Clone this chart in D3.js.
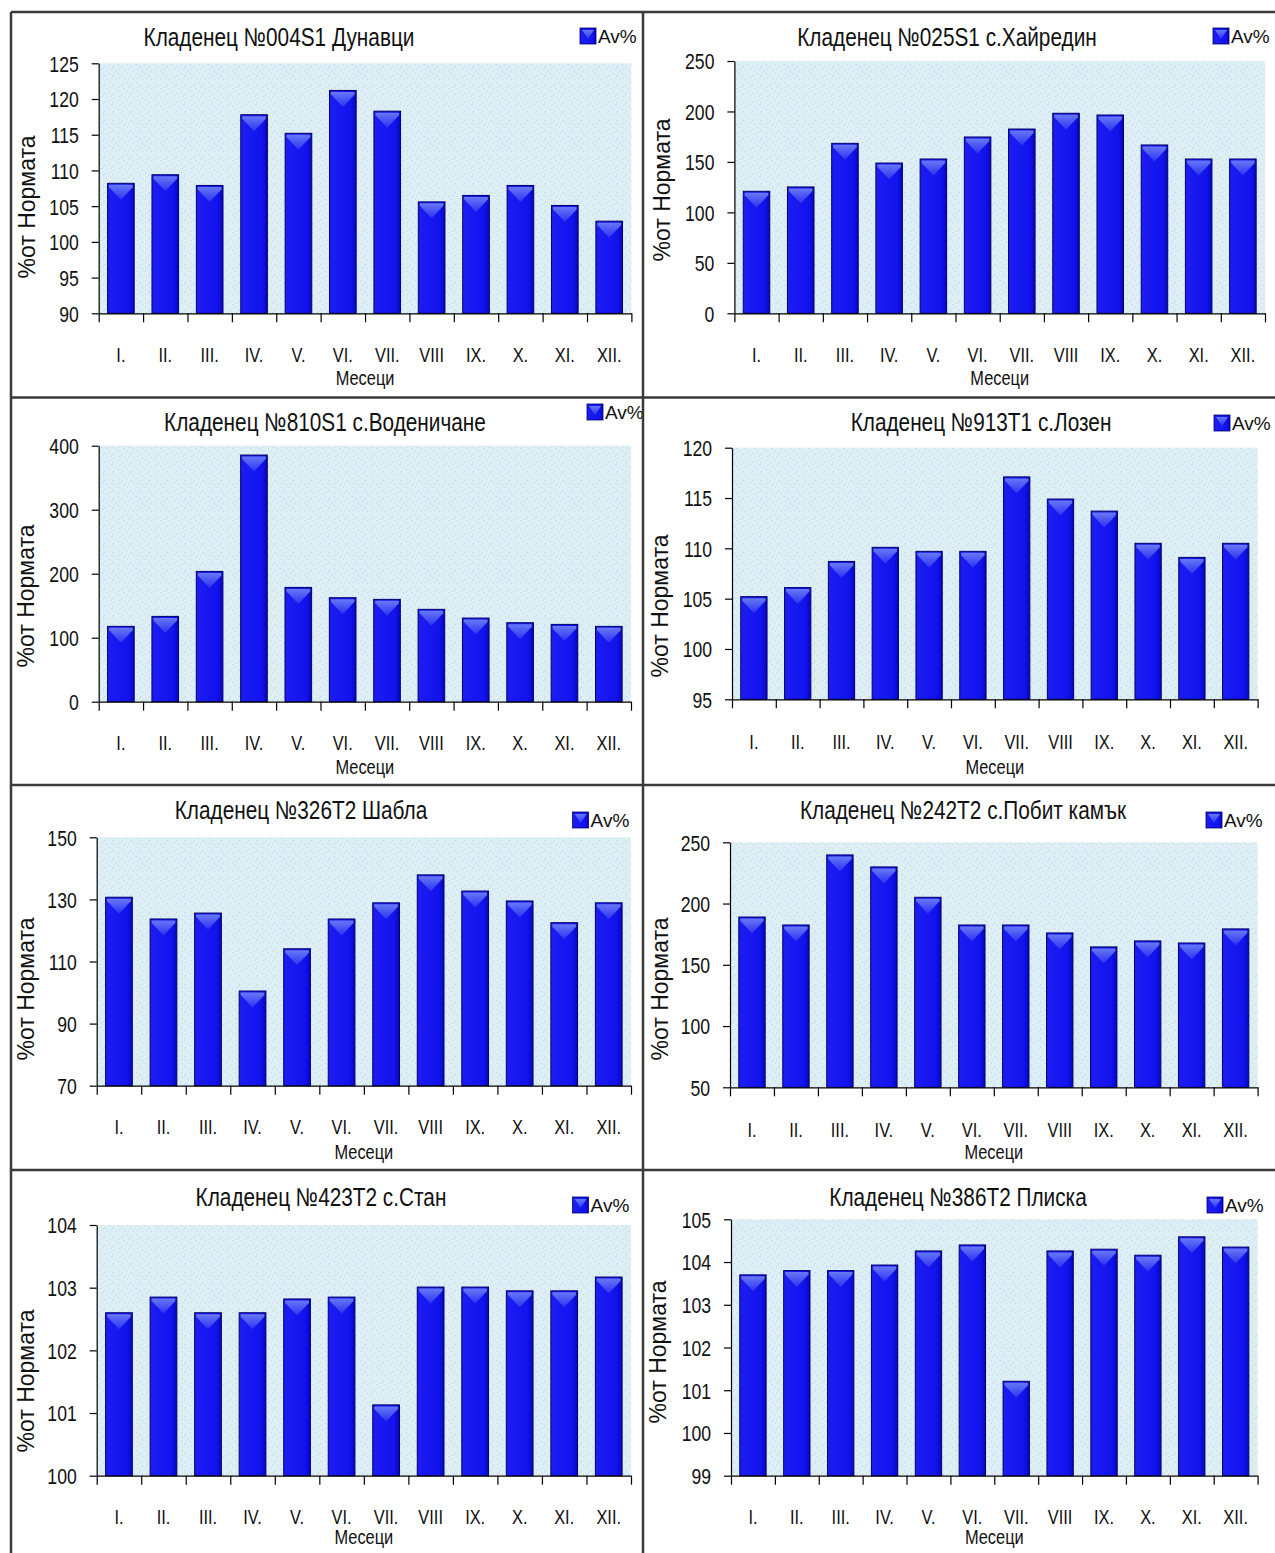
<!DOCTYPE html>
<html>
<head>
<meta charset="utf-8">
<script src="https://cdn.jsdelivr.net/npm/d3@7"></script>
<style>
  html, body { margin: 0; padding: 0; background: #ffffff; }
  svg { display: block; }
  text { font-family: "Liberation Sans", Arial, sans-serif; fill: #111; }
</style>
</head>
<body>
<script>
// Monthly groundwater levels as % of norm for eight wells
const months = ["I.", "II.", "III.", "IV.", "V.", "VI.", "VII.", "VIII", "IX.", "X.", "XI.", "XII."];

const titles = [
  "Кладенец №004S1 Дунавци",
  "Кладенец №025S1 с.Хайредин",
  "Кладенец №810S1 с.Воденичане",
  "Кладенец №913T1 с.Лозен",
  "Кладенец №326T2 Шабла",
  "Кладенец №242T2 с.Побит камък",
  "Кладенец №423T2 с.Стан",
  "Кладенец №386T2 Плиска"
];

const well004S1 = [108.2, 109.4, 107.9, 117.8, 115.2, 121.2, 118.3, 105.6, 106.5, 107.9, 105.1, 102.9];
const well025S1 = [120.9, 125.2, 168.4, 148.9, 152.9, 174.7, 182.6, 198.2, 196.5, 166.8, 152.9, 152.9];
const well810S1 = [117.7, 133.3, 203.6, 385.4, 178.6, 162.5, 159.9, 144.3, 130.7, 123.4, 120.8, 117.7];
const well913T1 = [105.2, 106.1, 108.7, 110.1, 109.7, 109.7, 117.1, 114.9, 113.7, 110.5, 109.1, 110.5];
const well326T2 = [130.7, 123.7, 125.6, 100.5, 114.1, 123.7, 128.9, 137.9, 132.7, 129.5, 122.5, 128.9];
const well242T2 = [189.0, 182.5, 239.7, 229.9, 205.1, 182.5, 182.5, 176.0, 164.6, 169.5, 167.8, 179.3];
const well423T2 = [102.6, 102.85, 102.6, 102.6, 102.82, 102.85, 101.13, 103.01, 103.01, 102.95, 102.95, 103.17];
const well386T2 = [103.7, 103.8, 103.8, 103.93, 104.26, 104.4, 101.21, 104.26, 104.3, 104.16, 104.59, 104.35];

const ticks004S1 = [90, 95, 100, 105, 110, 115, 120, 125];
const ticks025S1 = [0, 50, 100, 150, 200, 250];
const ticks810S1 = [0, 100, 200, 300, 400];
const ticks913T1 = [95, 100, 105, 110, 115, 120];
const ticks326T2 = [70, 90, 110, 130, 150];
const ticks242T2 = [50, 100, 150, 200, 250];
const ticks423T2 = [100, 101, 102, 103, 104];
const ticks386T2 = [99, 100, 101, 102, 103, 104, 105];

const seriesName = "Av%";
const xTitle = "Месеци";
const yTitle = "%от Нормата";

const values = [well004S1, well025S1, well810S1, well913T1, well326T2, well242T2, well423T2, well386T2];
const tickSets = [ticks004S1, ticks025S1, ticks810S1, ticks913T1, ticks326T2, ticks242T2, ticks423T2, ticks386T2];

// Panel geometry (page coordinates)
const frames = [
  {l: 98.7, r: 631.4, t: 63.3,  b: 313.3,  tx: 279, ty: 37,    lx: 580,  ly: 28,   yx: 27,   yy: 207,  my: 355,  ay: 378},
  {l: 734.4, r: 1265, t: 61,    b: 313.3,  tx: 947, ty: 37,    lx: 1213, ly: 28,   yx: 662,  yy: 190,  my: 355,  ay: 378},
  {l: 98.7, r: 631,   t: 445.7, b: 701.7,  tx: 325, ty: 421.7, lx: 587,  ly: 404,  yx: 25.5, yy: 596,  my: 743,  ay: 767},
  {l: 732,  r: 1257.6, t: 447.7, b: 699.3, tx: 981, ty: 421.7, lx: 1214, ly: 415,  yx: 660,  yy: 606,  my: 742,  ay: 767},
  {l: 96.7, r: 631,   t: 837.3, b: 1085.7, tx: 301, ty: 810,   lx: 572.6, ly: 812, yx: 25.5, yy: 989,  my: 1127, ay: 1152},
  {l: 730,  r: 1257.6, t: 842.3, b: 1087.3, tx: 963, ty: 810,  lx: 1206, ly: 812,  yx: 659.5, yy: 989, my: 1130, ay: 1152},
  {l: 96.7, r: 631,   t: 1225,  b: 1475.7, tx: 321, ty: 1197,  lx: 572.6, ly: 1197, yx: 25.5, yy: 1381, my: 1517, ay: 1537},
  {l: 731,  r: 1257.6, t: 1219.3, b: 1475.7, tx: 958, ty: 1197, lx: 1207, ly: 1197, yx: 658, yy: 1352, my: 1517, ay: 1537}
];

const W = 1275, H = 1553;
const svg = d3.select("body").append("svg").attr("width", W).attr("height", H);
svg.append("rect").attr("width", W).attr("height", H).attr("fill", "#ffffff");

const defs = svg.append("defs");

// Speckled light-blue plot background
const pat = defs.append("pattern").attr("id", "speckle").attr("patternUnits", "userSpaceOnUse")
  .attr("width", 9).attr("height", 9);
pat.append("rect").attr("width", 9).attr("height", 9).attr("fill", "#dceff4");
[[1, 1], [5, 3], [2, 6], [7, 7], [4, 4.5]].forEach(([px, py], i) => {
  pat.append("rect").attr("x", px).attr("y", py).attr("width", 1).attr("height", 1)
    .attr("fill", i % 2 ? "#cfc8ea" : "#d3cbe9");
});

// Bar body shading: bright blue, darker toward the right edge
const body = defs.append("linearGradient").attr("id", "barBody").attr("x1", 0).attr("x2", 1).attr("y1", 0).attr("y2", 0);
body.append("stop").attr("offset", "0%").attr("stop-color", "#1c1cf2");
body.append("stop").attr("offset", "80%").attr("stop-color", "#1212ee");
body.append("stop").attr("offset", "100%").attr("stop-color", "#0707b8");

// Lighter downward chevron at the top of each bar
const cap = defs.append("linearGradient").attr("id", "barCap").attr("x1", 0).attr("x2", 0).attr("y1", 0).attr("y2", 1);
cap.append("stop").attr("offset", "0%").attr("stop-color", "#6878f7");
cap.append("stop").attr("offset", "100%").attr("stop-color", "#2a32f0");

frames.forEach((f, i) => {
  const data = values[i];
  const ticks = tickSets[i];
  const g = svg.append("g");

  const x = d3.scaleBand().domain(months).range([f.l, f.r]).paddingInner(0.4).paddingOuter(0.2);
  const xEdge = d3.scaleLinear().domain([0, months.length]).range([f.l, f.r]);
  const y = d3.scaleLinear().domain([ticks[0], ticks[ticks.length - 1]]).range([f.b, f.t]);

  // plot background
  g.append("rect").attr("x", f.l).attr("y", f.t).attr("width", f.r - f.l).attr("height", f.b - f.t)
    .attr("fill", "url(#speckle)");

  // bars
  const bars = g.append("g").selectAll("g").data(data).join("g");
  bars.append("rect")
    .attr("x", (d, j) => x(months[j]))
    .attr("y", d => y(d))
    .attr("width", x.bandwidth())
    .attr("height", d => y(ticks[0]) - y(d))
    .attr("fill", "url(#barBody)")
    .attr("stroke", "#00006e").attr("stroke-width", 1);
  bars.append("path")
    .attr("d", (d, j) => {
      const x0 = x(months[j]) + 1.5, w = x.bandwidth() - 3, y0 = y(d) + 1.5;
      return `M${x0},${y0}H${x0 + w}V${y0 + 2.5}L${x0 + w / 2},${y0 + 15}L${x0},${y0 + 2.5}Z`;
    })
    .attr("fill", "url(#barCap)");

  // y axis
  const ya = g.append("g").attr("transform", `translate(${f.l},0)`)
    .call(d3.axisLeft(y).tickValues(ticks).tickSize(7).tickSizeOuter(0).tickFormat(d3.format("d")));
  ya.select(".domain").attr("stroke", "#000").attr("stroke-width", 1.2);
  ya.selectAll(".tick line").attr("stroke", "#000").attr("stroke-width", 1.2);
  ya.selectAll(".tick text")
    .attr("font-size", 22).attr("font-family", "Liberation Sans, Arial, sans-serif").attr("fill", "#111")
    .attr("x", -20 / 0.8).attr("dy", "0.36em")
    .attr("transform", "scale(0.8,1)");

  // x axis with ticks at category boundaries
  const xa = g.append("g").attr("transform", `translate(0,${f.b})`)
    .call(d3.axisBottom(xEdge).tickValues(d3.range(months.length + 1)).tickSize(9).tickSizeOuter(0).tickFormat(""));
  xa.select(".domain").attr("stroke", "#000").attr("stroke-width", 1.2);
  xa.selectAll(".tick line").attr("stroke", "#000").attr("stroke-width", 1.2);

  // month labels
  const ml = g.append("g").attr("transform", `translate(0,${f.my})`)
    .call(d3.axisBottom(x).tickSize(0).tickPadding(0));
  ml.select(".domain").remove();
  ml.selectAll(".tick text")
    .attr("font-size", 20).attr("font-family", "Liberation Sans, Arial, sans-serif").attr("fill", "#111")
    .attr("y", 0).attr("dy", "0.36em")
    .attr("transform", "scale(0.82,1)");

  // axis titles
  g.append("text").attr("transform", `translate(${(f.l + f.r) / 2},${f.ay}) scale(0.82,1)`)
    .attr("text-anchor", "middle").attr("dy", "0.36em").attr("font-size", 20).text(xTitle);
  g.append("text").attr("transform", `translate(${f.yx},${f.yy}) rotate(-90)`)
    .attr("text-anchor", "middle").attr("dy", "0.36em").attr("font-size", 23).text(yTitle);

  // chart title
  g.append("text").attr("transform", `translate(${f.tx},${f.ty}) scale(0.8,1)`)
    .attr("text-anchor", "middle").attr("dy", "0.36em").attr("font-size", 26).text(titles[i]);

  // legend
  const lg = g.append("g").attr("transform", `translate(${f.lx},${f.ly})`);
  lg.append("rect").attr("width", 16).attr("height", 16).attr("fill", "url(#barBody)")
    .attr("stroke", "#00006e").attr("stroke-width", 0.8);
  lg.append("path").attr("d", "M2,2H14L8,11Z").attr("fill", "url(#barCap)");
  lg.append("text").attr("x", 18).attr("y", 8).attr("dy", "0.36em").attr("font-size", 19).text(seriesName);
});

// panel frame lines
const frame = svg.append("g").attr("stroke", "#3a3a3a").attr("stroke-width", 2.5).attr("fill", "none");
frame.append("line").attr("x1", 11).attr("x2", W).attr("y1", 12).attr("y2", 12);
frame.append("line").attr("x1", 11).attr("x2", 11).attr("y1", 12).attr("y2", H);
frame.append("line").attr("x1", 643).attr("x2", 643).attr("y1", 12).attr("y2", H);
[397.5, 785, 1170].forEach(yy => {
  frame.append("line").attr("x1", 11).attr("x2", W).attr("y1", yy).attr("y2", yy);
});
</script>
</body>
</html>
